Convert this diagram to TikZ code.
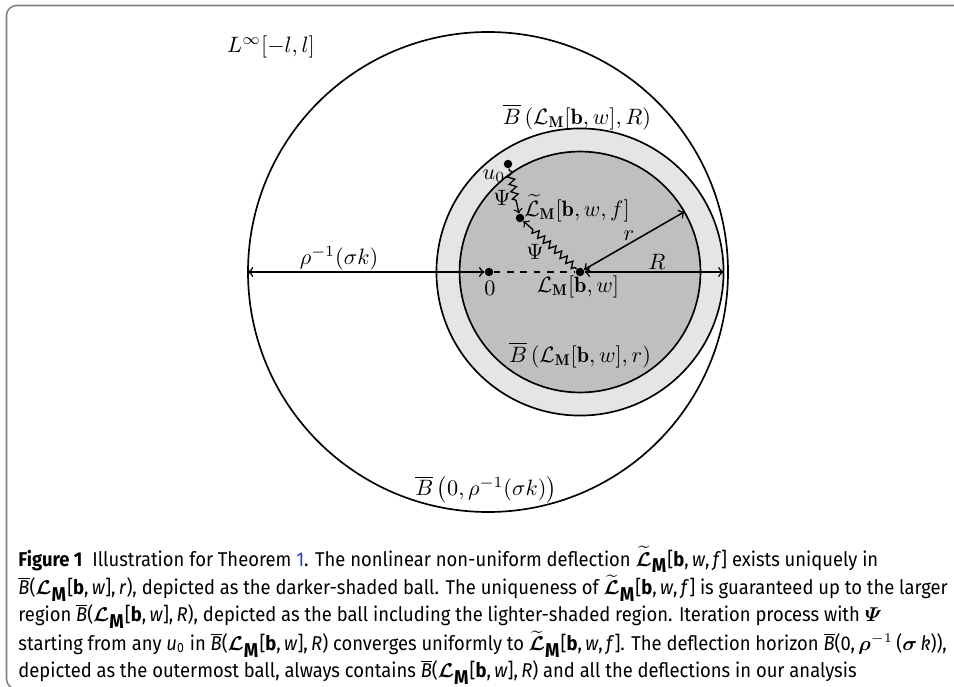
\documentclass[tikz,border=0pt]{standalone}
\usepackage{amsmath}
\usepackage{bm}
\usepackage{fontspec}
\newfontfamily\capfont[FakeStretch=0.92]{Fira Sans}
\usetikzlibrary{decorations.pathmorphing}
\definecolor{linkblue}{RGB}{40,60,220}
\newcommand\cB{$\overline{\mbox{\itshape B}}$}
\newcommand\cLM{$\bm{\mathcal{L}}_{\mbox{\bfseries M}}$}
\newcommand\cLt{$\widetilde{\bm{\mathcal{L}}}_{\mbox{\bfseries M}}$}
\newcommand\bw{[\textbf{b},\,\textit{w}]}
\newcommand\bwf{[\textbf{b},\,\textit{w},\,\textit{f}]}
\begin{document}
\begin{tikzpicture}[x=0.45pt,y=-0.45pt,
  dot/.style={circle,fill=black,inner sep=0pt,minimum size=3.8pt},
  ring/.style={draw=black,line width=0.75pt},
  lab/.style={inner sep=1pt},
  conn/.style={line width=0.7pt},
  wiggle/.style={->,line width=0.6pt,decorate,decoration={zigzag,amplitude=1.5pt,segment length=3.4pt,pre length=1pt,post length=4.5pt}},
  capstyle/.style={anchor=north west,inner sep=0pt,align=left,font=\capfont\fontsize{9}{10.6}\selectfont}]
\useasboundingbox (0,0) rectangle (954,687);
% frame
\draw[gray,line width=0.7pt,rounded corners=4.5pt] (960,5.5) -| (6.5,689) -- (40,689);
% circles
\draw[ring] (488,272) circle[radius=108pt];
\filldraw[ring,fill=black!10] (580,272) circle[radius=64.6pt];
\filldraw[ring,fill=black!25] (580,272) circle[radius=54.2pt];
% points
\node[dot] (O) at (489,272) {};
\node[dot] (C) at (580,272) {};
\node[dot] (u0) at (508,164) {};
\node[dot] (Lt) at (520,218) {};
\coordinate (Lft) at (248,272);
\coordinate (Rgt) at (723.5,272);
\coordinate (rr) at (684.4,211.8);
% connectors
\draw[<->,conn] (Lft) -- (O);
\draw[dashed,conn] (O) -- (C);
\draw[<->,conn] (C) -- (Rgt);
\draw[<->,conn] (C) -- (rr);
\draw[wiggle] (u0) -- (Lt);
\draw[wiggle] (C) -- (Lt);
% labels
\node[lab] (tL) at (271,47) {$L^\infty[-l,l]$};
\node[lab] (tBR) at (577,117) {$\overline{B}\left(\mathcal{L}_{\mathbf{M}}[\mathbf{b},w],R\right)$};
\node[lab] (tu0) at (494,176) {$u_0$};
\node[lab] (tPsi1) at (502,198) {$\Psi$};
\node[lab] (tLt) at (577,208) {$\widetilde{\mathcal{L}}_{\mathbf{M}}[\mathbf{b},w,f]$};
\node[lab] (tPsi2) at (535,252) {$\Psi$};
\node[lab] (tr) at (629,236) {$r$};
\node[lab] (tR) at (657,262) {$R$};
\node[lab] (trho) at (339,258) {$\rho^{-1}(\sigma k)$};
\node[lab] (t0) at (490,288) {$0$};
\node[lab] (tLM) at (578,287) {$\mathcal{L}_{\mathbf{M}}[\mathbf{b},w]$};
\node[lab] (tBr) at (580,355) {$\overline{B}\left(\mathcal{L}_{\mathbf{M}}[\mathbf{b},w],r\right)$};
\node[lab] (tB0) at (486,490) {$\overline{B}\left(0,\rho^{-1}(\sigma k)\right)$};
% caption
\node[capstyle] (cap) at (18,546) {%
\textbf{Figure 1}\enspace Illustration for Theorem {\color{linkblue}1}. The nonlinear non-uniform deflection \cLt\bwf{} exists uniquely in\\
\cB(\cLM\bw,\,\textit{r}), depicted as the darker-shaded ball. The uniqueness of \cLt\bwf{} is guaranteed up to the larger\\
region \cB(\cLM\bw,\,\textit{R}), depicted as the ball including the lighter-shaded region. Iteration process with $\bm{\varPsi}$\\
starting from any \textit{u}\textsubscript{0} in \cB(\cLM\bw,\,\textit{R}) converges uniformly to \cLt\bwf. The deflection horizon \cB(0,\,$\bm{\rho}^{-1}$\,($\bm{\sigma}$\,\textit{k})),\\
depicted as the outermost ball, always contains \cB(\cLM\bw,\,\textit{R}) and all the deflections in our analysis};
\end{tikzpicture}
\end{document}
